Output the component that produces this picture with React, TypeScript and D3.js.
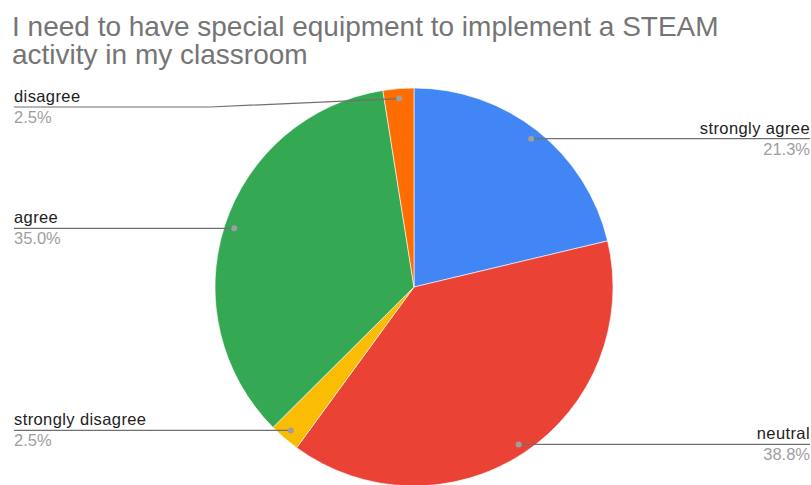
import React from "react";
import * as d3 from "d3";

const categories = ["strongly agree", "neutral", "strongly disagree", "agree", "disagree"];
const values = [21.3, 38.8, 2.5, 35.0, 2.5];
const percentLabels = ["21.3%", "38.8%", "2.5%", "35.0%", "2.5%"];
const colors = ["#4285F4", "#EA4335", "#FBBC04", "#34A853", "#FF6D01"];
const titleLines = ["I need to have special equipment to implement a STEAM", "activity in my classroom"];

const W = 811;
const H = 485;
const cx = 414;
const cy = 287;
const R = 199;
const dotR = R * 0.95;
const minLineY = 107;
const leftX = 14;
const rightX = 810;

export default function App() {
  const pie = d3
    .pie<number>()
    .sort(null)
    .value((d) => d);
  const arcs = pie(values);
  const arcGen = d3.arc<d3.PieArcDatum<number>>().innerRadius(0).outerRadius(R);

  const labels = arcs.map((a, i) => {
    const mid = (a.startAngle + a.endAngle) / 2;
    const dx = cx + Math.sin(mid) * dotR;
    const dy = cy - Math.cos(mid) * dotR;
    const left = mid > Math.PI;
    const lineY = Math.max(dy, minLineY);
    const elbowX = left ? cx - R - 5 : cx + R + 5;
    const pts: [number, number][] = left
      ? [[leftX, lineY], [elbowX, lineY], [dx, dy]]
      : [[rightX, lineY], [elbowX, lineY], [dx, dy]];
    return { i, dx, dy, left, lineY, pts };
  });

  return (
    <svg
      width={W}
      height={H}
      style={{ position: "absolute", left: 0, top: 0, background: "#fff" }}
      fontFamily="'Liberation Sans', Arial, sans-serif"
    >
      <rect width={W} height={H} fill="#fff" />
      {titleLines.map((t, k) => (
        <text key={k} x={12} y={36 + k * 28} fontSize={28} fill="#757575">
          {t}
        </text>
      ))}
      <g transform={`translate(${cx},${cy})`}>
        {arcs.map((a, i) => (
          <path key={i} d={arcGen(a) || ""} fill={colors[i]} stroke="#fff" strokeWidth={0.6} />
        ))}
      </g>
      {labels.map((l) => (
        <g key={l.i}>
          <polyline
            points={l.pts.map((p) => p.join(",")).join(" ")}
            fill="none"
            stroke="#707070"
            strokeWidth={1.2}
          />
          <circle cx={l.dx} cy={l.dy} r={3} fill="#9e9e9e" />
          <text
            x={l.left ? leftX : rightX}
            y={l.lineY - 5}
            fontSize={16.5}
            letterSpacing={0.4}
            fill="#222"
            textAnchor={l.left ? "start" : "end"}
          >
            {categories[l.i]}
          </text>
          <text
            x={l.left ? leftX : rightX}
            y={l.lineY + 16}
            fontSize={16.5}
            fill="#9e9e9e"
            textAnchor={l.left ? "start" : "end"}
          >
            {percentLabels[l.i]}
          </text>
        </g>
      ))}
    </svg>
  );
}
